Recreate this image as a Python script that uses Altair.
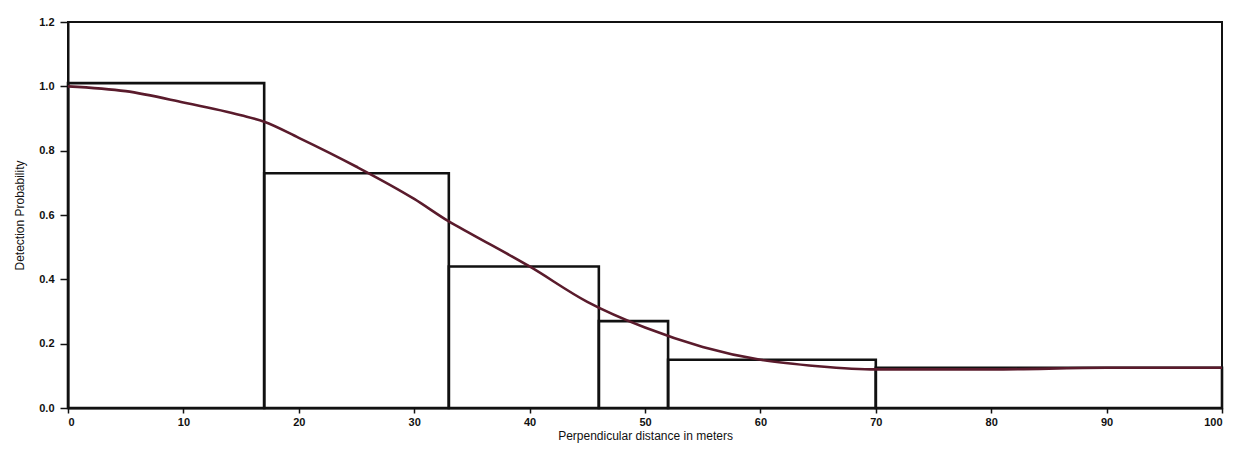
import altair as alt
import pandas as pd

# Histogram bins (perpendicular distance, m) and detection probability
bin_start = [0, 17, 33, 46, 52, 70]
bin_end = [17, 33, 46, 52, 70, 100]
bin_height = [1.01, 0.73, 0.44, 0.27, 0.15, 0.125]

# Fitted detection curve
curve_x = [0, 5, 10, 15, 17, 20, 25, 30, 33, 35, 40, 45, 50, 55, 60, 65, 70, 80, 90, 100]
curve_y = [1.0, 0.985, 0.95, 0.91, 0.89, 0.84, 0.75, 0.65, 0.58, 0.54, 0.44, 0.33, 0.25, 0.19,
           0.15, 0.13, 0.12, 0.12, 0.125, 0.125]

bars = pd.DataFrame({"x0": bin_start, "x1": bin_end, "h": bin_height, "base": [0] * len(bin_start)})
curve = pd.DataFrame({"x": curve_x, "y": curve_y})

FONT = "Liberation Sans"

xscale = alt.Scale(domain=[0, 100], nice=False, zero=False)
yscale = alt.Scale(domain=[0, 1.2], nice=False)

xaxis = alt.Axis(values=list(range(0, 101, 10)), title="Perpendicular distance in meters",
                 grid=False, tickSize=5, labelPadding=3, titlePadding=3)
yaxis = alt.Axis(values=[0, 0.2, 0.4, 0.6, 0.8, 1.0, 1.2], format=".1f",
                 title="Detection Probability", grid=False, tickSize=8, labelPadding=6,
                 titlePadding=12)

bar_layer = alt.Chart(bars).mark_rect(fill=None, stroke="#111111", strokeWidth=2.6).encode(
    x=alt.X("x0:Q", scale=xscale, axis=xaxis),
    x2="x1:Q",
    y=alt.Y("base:Q", scale=yscale, axis=yaxis),
    y2="h:Q",
)

line_layer = alt.Chart(curve).mark_line(color="#5a1b2c", strokeWidth=2.6, interpolate="monotone").encode(
    x=alt.X("x:Q", scale=xscale),
    y=alt.Y("y:Q", scale=yscale),
)

chart = alt.layer(bar_layer, line_layer).properties(
    width=1154, height=386,
    background="white",
    autosize=alt.AutoSizeParams(type="none"),
    padding={"left": 60, "top": 14, "right": 21, "bottom": 38},
).configure_view(stroke="#111111", strokeWidth=2).configure_axis(
    domainColor="#111111", domainWidth=2, tickColor="#111111", tickWidth=1.5,
    labelFont=FONT, labelFontSize=11, labelFontWeight="bold", labelColor="#111111",
    titleFont=FONT, titleFontSize=12, titleFontWeight="normal", titleColor="#111111",
)

chart.save("out.html", embed_options={"renderer": "svg", "actions": False})
